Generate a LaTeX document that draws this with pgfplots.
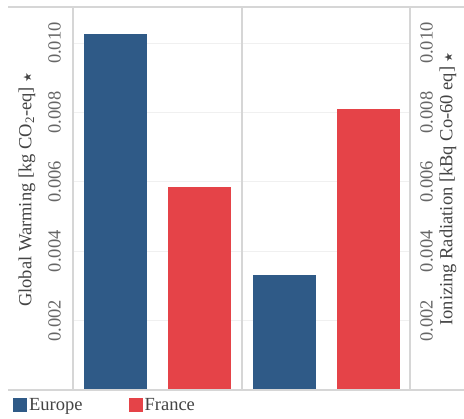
\documentclass[border=0pt]{standalone}
\usepackage{fontspec}
\setmainfont{Liberation Serif}
\newfontfamily\symfont{DejaVu Sans}
\usepackage{pgfplots}
\pgfplotsset{compat=1.18}
\definecolor{eu}{RGB}{47,90,135}
\definecolor{fr}{RGB}{229,67,72}
\definecolor{txt}{RGB}{68,68,68}
\definecolor{ticktxt}{RGB}{102,102,102}
\definecolor{framec}{RGB}{214,214,214}
\definecolor{gridc}{RGB}{240,240,240}
\newcommand\lbfont{\fontsize{18.5bp}{22bp}\selectfont}
\newcommand\pin{{\symfont\fontsize{11bp}{11bp}\selectfont\color{txt}★}}
\pgfplotsset{
  panel/.style={
    scale only axis, height=383bp,
    xmin=0, xmax=4, ymin=0, ymax=0.01104,
    axis line style={draw=none},
    xtick=\empty,
    ytick={0.002,0.004,0.006,0.008,0.010},
    yticklabels={0.002,0.004,0.006,0.008,0.010},
    scaled y ticks=false,
    major tick length=0pt,
    ymajorgrids, grid style={gridc, line width=0.8bp},
    yticklabel style={font=\lbfont, text=ticktxt, rotate=90, inner sep=0pt},
  },
  bar/.style={ybar, bar width=1.5, draw=none, fill=#1},
}
\begin{document}
\begin{tikzpicture}
\path[use as bounding box] (0,0) rectangle (464bp,419bp);
\begin{axis}[panel, width=169bp, at={(73bp,29bp)}, anchor=south west,
  yticklabel style={anchor=south},
  yticklabel shift=12bp,
  ylabel={Global Warming [kg CO\textsubscript{2}-eq] \pin},
  ylabel style={font=\lbfont, text=txt, at={(axis description cs:-0.272,0.523)}, anchor=center},
  legend columns=2,
  legend style={at={(axis cs:0,0)}, anchor=north west, xshift=-60bp, yshift=-6bp,
    draw=none, fill=none, inner sep=0pt,
    font=\lbfont, text=txt,
    /tikz/every even column/.append style={column sep=44bp}},
  legend image code/.code={\path[#1] (0bp,-7bp) rectangle (14bp,7bp);},
]
\addplot[bar=eu] coordinates {(1,0.01025)};
\addlegendentry{Europe}
\addplot[bar=fr] coordinates {(3,0.00585)};
\addlegendentry{France}
\end{axis}
\begin{axis}[panel, width=168bp, at={(242bp,29bp)}, anchor=south west,
  yticklabel pos=right,
  yticklabel style={anchor=north},
  yticklabel shift=10bp,
  ylabel={Ionizing Radiation [kBq Co-60 eq] \pin},
  ylabel style={font=\lbfont, text=txt, at={(axis description cs:1.226,0.525)}, anchor=center, rotate=0},
]
\addplot[bar=eu] coordinates {(1,0.00331)};
\addplot[bar=fr] coordinates {(3,0.00809)};
\end{axis}
\draw[framec, line width=1.4bp] (8bp,412bp) -- (464bp,412bp);
\draw[framec, line width=1.4bp] (8bp,29bp) -- (464bp,29bp);
\foreach \x in {73,242,410} \draw[framec, line width=1.2bp] (\x bp,29bp) -- (\x bp,412bp);
\end{tikzpicture}
\end{document}
